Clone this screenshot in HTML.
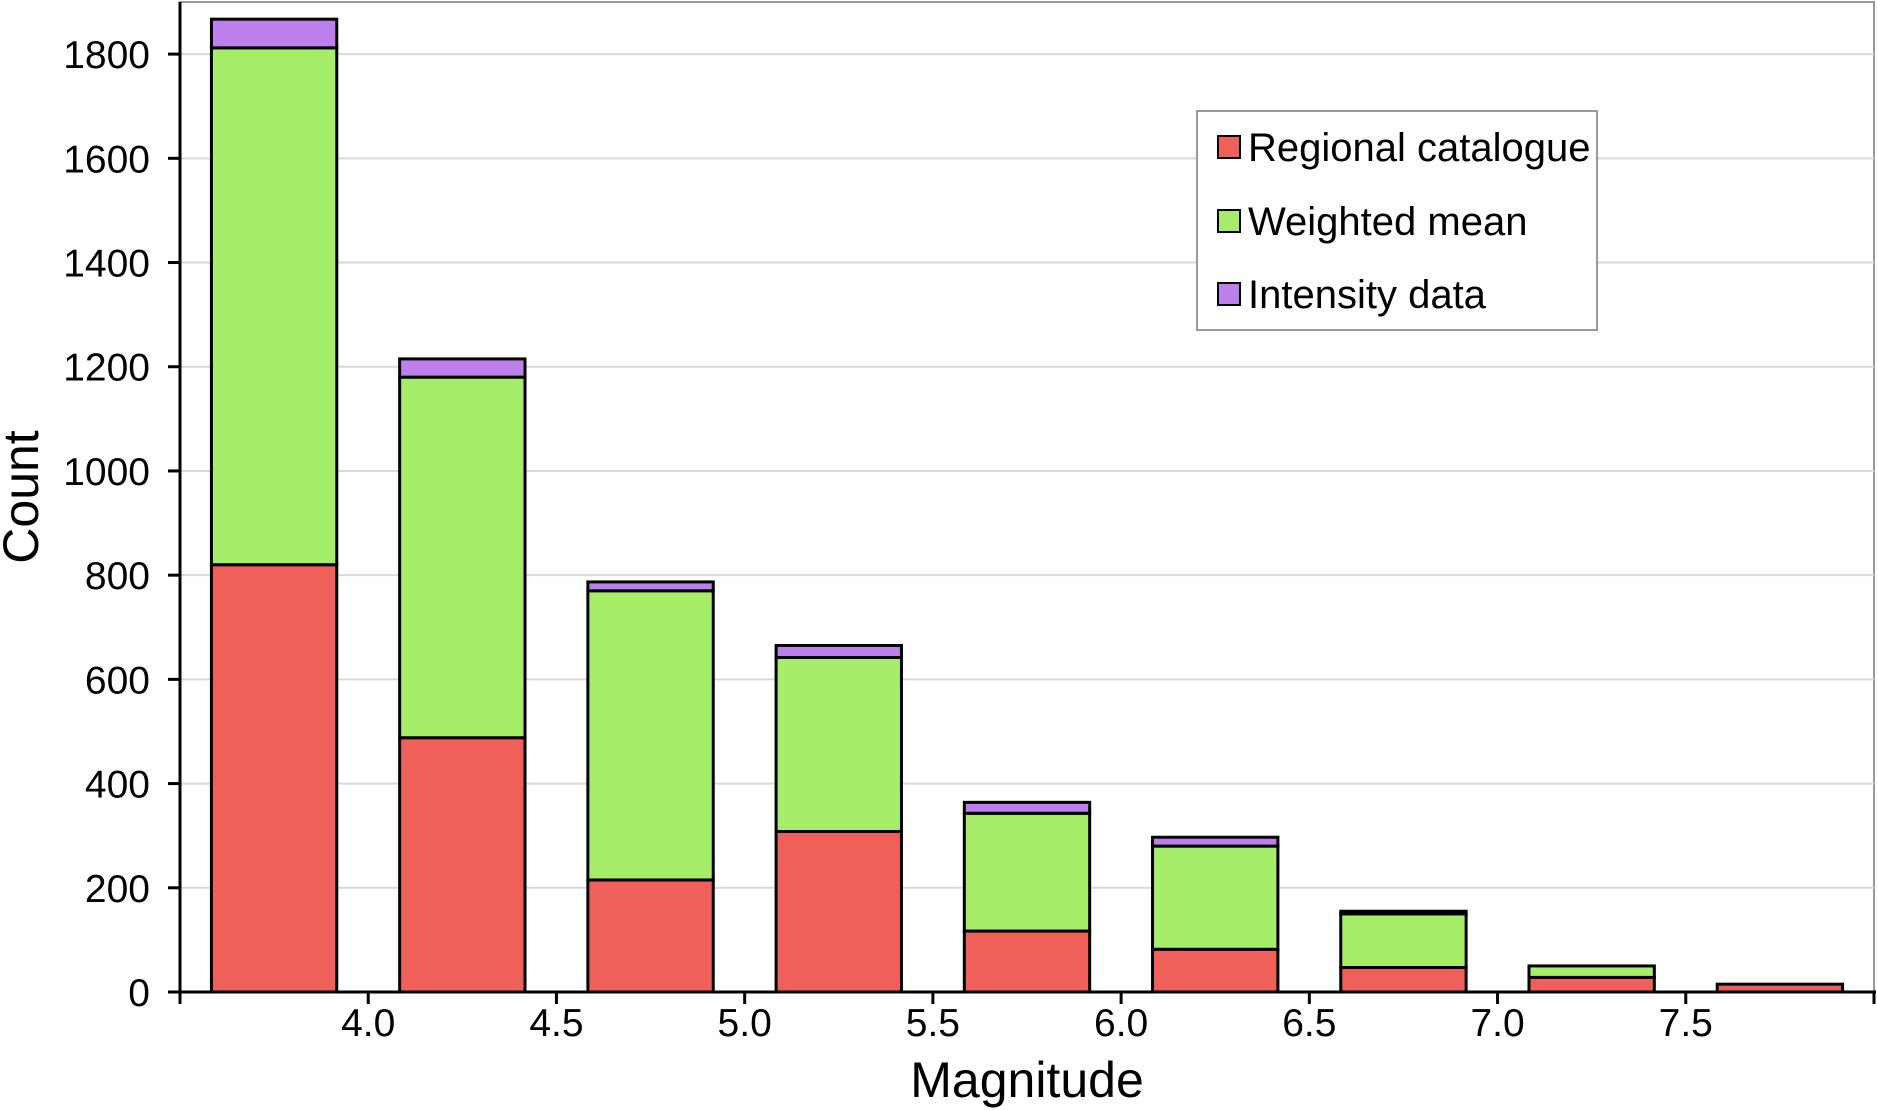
<!DOCTYPE html>
<html><head><meta charset="utf-8"><style>
html,body{margin:0;padding:0;background:#fff;}
svg{display:block;font-family:"Liberation Sans",Arial,sans-serif;}
</style></head><body>
<svg id="chart" width="1877" height="1110" viewBox="0 0 1877 1110"></svg>
<script>
const categories = [3.75, 4.25, 4.75, 5.25, 5.75, 6.25, 6.75, 7.25, 7.75];
const regional = [820, 488, 215, 308, 117, 82, 47, 28, 15];
const weighted = [992, 692, 555, 334, 226, 198, 103, 22, 0];
const intensity = [55, 35, 17, 23, 21, 17, 5, 0, 0];
const yTicks = [0, 200, 400, 600, 800, 1000, 1200, 1400, 1600, 1800];
const xTicks = ["4.0", "4.5", "5.0", "5.5", "6.0", "6.5", "7.0", "7.5"];

const NS = "http://www.w3.org/2000/svg";
const svg = document.getElementById("chart");
const L = 180, R = 1874, T = 2, B = 992;
const xMin = 3.5, xMax = 8.0, yMax = 1900;
const xs = v => L + (v - xMin) / (xMax - xMin) * (R - L);
const ys = v => B - v / yMax * (B - T);
function el(tag, attrs, parent) {
  const e = document.createElementNS(NS, tag);
  for (const k in attrs) e.setAttribute(k, attrs[k]);
  (parent || svg).appendChild(e);
  return e;
}
const frame = el("rect", {x: L, y: T, width: R - L, height: B - T, fill: "none", stroke: "#999", "stroke-width": 2});


yTicks.forEach(t => {
  const y = ys(t);
  if (t > 0) {
    const g = el("line", {x1: L, x2: R, y1: y, y2: y, stroke: "#d9d9d9", "stroke-width": 2});
    
    
  }
  const tk = el("line", {x1: L - 12, x2: L, y1: y, y2: y, stroke: "#000", "stroke-width": 3});
  
  
  const tx = el("text", {x: L - 30, y: y + 14, "text-anchor": "end", "font-size": 39, fill: "#000"});
  tx.textContent = t;
  
  
});
const bw = 0.333;
categories.forEach((c, i) => {
  const x0 = xs(c - bw / 2), w = xs(c + bw / 2) - x0;
  const segs = [[0, regional[i], "#f0605a", "bar-regional"],
    [regional[i], regional[i] + weighted[i], "#a6ee6a", "bar-weighted"],
    [regional[i] + weighted[i], regional[i] + weighted[i] + intensity[i], "#bd7fec", "bar-intensity"]];
  segs.forEach(s => {
    if (s[1] - s[0] <= 0) return;
    const r = el("rect", {x: x0, y: ys(s[1]), width: w, height: ys(s[0]) - ys(s[1]), fill: s[2], stroke: "#000", "stroke-width": 3});
    
    
  });
});
const ya = el("line", {x1: L, x2: L, y1: T, y2: B, stroke: "#000", "stroke-width": 3});


const xa = el("line", {x1: L, x2: R + 2, y1: B, y2: B, stroke: "#000", "stroke-width": 3});


xTicks.forEach(t => {
  const x = xs(parseFloat(t));
  const tk = el("line", {x1: x, x2: x, y1: B, y2: B + 12, stroke: "#000", "stroke-width": 3});
  
  
  const tx = el("text", {x: x, y: B + 44, "text-anchor": "middle", "font-size": 39, fill: "#000"});
  tx.textContent = t;
  
  
});
[L, R].forEach(x => {
  const tk = el("line", {x1: x, x2: x, y1: B, y2: B + 12, stroke: "#000", "stroke-width": 3});
  
  
});
const xt = el("text", {x: 1027, y: 1097, "text-anchor": "middle", "font-size": 50, fill: "#000"});
xt.textContent = "Magnitude";


const yt = el("text", {x: 0, y: 0, "text-anchor": "middle", "font-size": 50, fill: "#000", transform: "translate(38,497) rotate(-90)"});
yt.textContent = "Count";


const lg = el("g", {});


el("rect", {x: 1197, y: 111, width: 400, height: 219, fill: "#fff", stroke: "#999", "stroke-width": 2}, lg);
[["Regional catalogue", "#f0605a", 147], ["Weighted mean", "#a6ee6a", 221], ["Intensity data", "#bd7fec", 294]].forEach(e => {
  const g = el("g", {}, lg);
  
  
  el("rect", {x: 1218, y: e[2] - 11, width: 22, height: 22, fill: e[1], stroke: "#000", "stroke-width": 2}, g);
  const t = el("text", {x: 1248, y: e[2] + 14, "font-size": 40, fill: "#000"}, g);
  t.textContent = e[0];
});
</script>
</body></html>
